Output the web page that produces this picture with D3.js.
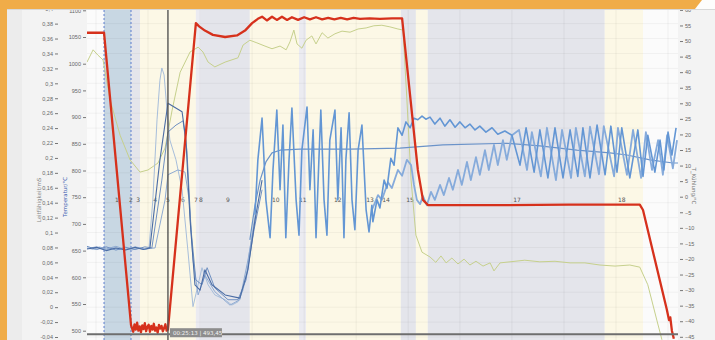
<!DOCTYPE html>
<html>
<head>
<meta charset="utf-8">
<script src="https://cdn.jsdelivr.net/npm/d3@7"></script>
<style>
  body { margin: 0; background: #f4f4f4; }
  svg { display: block; font-family: "DejaVu Sans", sans-serif; }
</style>
</head>
<body>
<svg id="chart"></svg>
<script>
const W = 715, H = 340;

// phase bands [start min, end min, kind]
const phaseBands = [
  [0, 5.3, "w"], [5.3, 13.7, "b"], [13.7, 16.5, "g"], [16.5, 33.9, "c"], [33.9, 35.5, "l"],
  [35.5, 50.7, "g"], [50.7, 66.0, "c"], [66.0, 68.2, "l"], [68.2, 97.7, "c"], [97.7, 102.4, "g"],
  [102.4, 106.1, "c"], [106.1, 161.2, "g"], [161.2, 173.1, "c"], [173.1, 184, "w"]
];
const dashedMarks = [5.3, 13.7];
const gridTimes = [2.8, 19.0, 35.2, 51.4, 67.6, 83.8, 100.0, 116.1, 132.3, 148.5, 164.7, 180.9];
const phaseNames = ["1", "2", "3", "4", "5", "6", "7", "8", "9", "10", "11", "12", "13", "14", "15", "17", "18"];
const phaseAt = [9.3, 13.7, 15.9, 21.2, 25.2, 29.9, 33.9, 35.5, 43.9, 58.8, 67.2, 78.1, 88.1, 93.1, 100.6, 133.9, 166.5];

const condTicks = d3.range(-0.04, 0.401, 0.02);
const tempTicks = [500, 550, 600, 650, 700, 750, 800, 850, 900, 950, 1000, 1050, 1100];
const rightTicks = [-45, -40, -35, -30, -25, -20, -15, -10, -5, 0, 5, 10, 15, 20, 25, 30, 35, 40, 45, 50, 55, 60];

const cursorTime = 25.2, cursorValue = 493.45;

// furnace temperature (red)
const redTemp = [[0,1058],[5.3,1058],[13.7,511],[14.0,505],[14.4,498],[14.8,512],[15.2,502],[15.6,515],[16.0,500],
  [16.4,508],[16.8,497],[17.2,510],[17.6,503],[18.0,514],[18.4,499],[18.8,507],[19.2,511],[19.6,498],[20.0,509],
  [20.4,502],[20.8,513],[21.2,500],[21.6,506],[22.0,496],[22.4,511],[22.8,504],[23.2,509],[23.6,499],[24.0,505],
  [24.4,512],[24.8,500],[25.2,502],[33.9,1076],[34.9,1070],[36.7,1062],[39.2,1054],[43.0,1050],[46.7,1053],
  [49.2,1062],[51.4,1076],[53.2,1084],[54.5,1088],[56.0,1081],[57.6,1088],[59.1,1082],[60.7,1088],[62.3,1082],
  [63.8,1087],[65.7,1082],[67.6,1087],[69.4,1083],[71.3,1087],[73.2,1083],[75.1,1086],[77.0,1083],[79.0,1086],
  [81.0,1083],[83.0,1086],[85.0,1084],[88.0,1085],[91.2,1084],[95.0,1085],[98.1,1085],[103.0,801],[104.6,745],
  [106.2,735],[128.6,735],[150.0,736],[172.1,736],[173.1,726],[180.5,540],[181.2,520],[181.6,525],[182.1,500],[182.7,485]];

// atmosphere temperature (yellow-green)
const yellowTemp = [[0,1003],[1.9,1026],[3.4,1016],[5.0,1007],[7.2,932],[10.3,866],[13.4,820],[16.5,797],[19.0,801],
  [22.1,814],[24.3,842],[26.5,913],[29.0,984],[32.1,1022],[34.6,1031],[36.1,1022],[37.7,1003],[39.8,994],[43.0,1003],
  [47.0,1011],[48.6,1035],[50.7,1044],[52.9,1039],[55.4,1033],[57.6,1028],[60.1,1033],[62.0,1026],[63.2,1041],
  [64.4,1063],[65.4,1037],[66.9,1029],[68.2,1044],[70.0,1052],[71.3,1037],[73.2,1058],[75.0,1048],[77.2,1056],
  [79.4,1061],[81.9,1059],[84.4,1065],[86.9,1067],[89.3,1071],[91.8,1072],[94.3,1069],[96.8,1065],[98.4,1063],
  [99.6,932],[100.9,782],[102.4,679],[104.3,647],[106.8,638],[108.6,628],[110.2,640],[111.8,627],[113.6,636],
  [115.5,625],[117.4,634],[119.2,623],[121.1,630],[123.3,621],[125.5,627],[126.7,612],[128.6,627],[131.7,629],
  [136.3,632],[141.0,629],[145.7,630],[150.4,627],[155.0,627],[159.7,623],[164.4,621],[169.0,623],[172.1,619],
  [174.6,586],[177.4,520],[179.0,483]];

// thermocouples (blue)
const blueTc1 = [[0,655],[2,652],[4,657],[6,651],[8,656],[10,652],[12,657],[14,651],[16,655],[18,652],[19.3,654],
  [20.5,745],[21.8,895],[22.7,969],[23.3,992],[24.0,979],[24.9,913],[25.8,857],[27.7,820],[29.6,764],[31.4,651],
  [33.0,545],[34.2,576],[35.8,618],[37.7,586],[39.8,567],[43.0,558],[45.1,548],[47.0,554],[48.6,576],[49.8,614],
  [51.1,670],[52.3,717]];
const blueTc2 = [[0,653],[3,656],[6,650],[9,655],[12,651],[15,656],[17.5,652],[19.6,655],[22.7,820],[25.2,926],
  [29.6,910],[30.8,857],[32.1,707],[33.6,586],[35.2,576],[36.7,614],[38.9,586],[43.0,567],[47.6,561],[50.1,614],
  [52.3,707],[54.5,782]];
const blueTc3 = [[0,658],[3,652],[6,657],[9,651],[12,656],[15,652],[18,657],[20.2,655],[23.3,782],[25.2,872],
  [27.7,885],[29.9,893],[31.1,838],[32.4,689],[33.9,595],[35.8,586],[37.4,618],[39.8,580],[43.9,558],[47.0,558],
  [49.5,595],[52.0,689],[54.5,764]];
const blueTc4 = [[0,654],[3,657],[6,653],[9,658],[12,652],[15,657],[18,653],[21.2,655],[24.3,745],[25.2,792],
  [28.3,801],[30.5,797],[31.8,745],[33.0,632],[34.6,567],[36.7,604],[39.8,573],[44.5,548],[47.6,558],[50.1,632],
  [52.6,717]];

// sample surface (oscillating)
const blueSample = [[52.3,717],[53.2,820],[54.5,898],[55.7,745],[57.0,674],[57.9,801],[59.1,913],[60.1,764],
  [61.0,885],[61.9,674],[62.9,820],[63.8,917],[65.1,745],[66.0,679],[66.9,838],[68.5,919],[69.4,764],[70.4,876],
  [71.3,674],[72.2,820],[72.8,913],[73.8,745],[74.7,679],[75.6,857],[77.2,913],[78.1,745],[79.1,880],[80.0,674],
  [80.6,820],[81.6,908],[82.5,745],[83.4,689],[84.4,838],[85.6,885],[86.9,726],[87.8,685],[88.7,735],[89.0,704],
  [90.3,745],[91.2,730],[92.5,782],[93.4,767],[94.6,823],[95.6,810],[96.8,880],[98.1,866],[99.3,891],[100.6,880],
  [101.8,898],[103.0,895],[104.3,902],[105.5,896],[106.8,900],[108.3,887],[109.9,898],[111.4,883],[113.0,895],
  [114.6,881],[116.1,891],[117.7,880],[119.2,887],[120.8,876],[122.3,883],[124.2,872],[126.1,880],[127.9,868],
  [130.1,874],[132.3,866],[134.8,810],[136.7,880],[139.2,797],[141.0,876],[143.5,786],[145.7,880],[148.2,786],
  [150.4,876],[152.8,789],[154.4,880],[156.6,786],[158.8,885],[161.3,792],[163.1,883],[165.0,797],[166.5,880],
  [169.0,786],[171.5,876],[173.1,789],[174.6,866],[176.8,797],[178.4,857],[179.6,801],[180.9,872],[182.1,829],[183.4,880]];

// sample back side
const blueLower = [[88.7,726],[90.6,754],[91.8,745],[93.7,778],[94.9,767],[96.8,801],[98.1,790],[99.6,820],
  [100.9,810],[101.8,773],[102.7,745],[103.7,737],[104.6,752],[105.8,735],[107.1,760],[108.3,745],[109.9,773],
  [111.1,754],[112.7,786],[113.9,764],[115.5,801],[116.7,773],[118.3,816],[119.5,782],[121.1,825],[122.3,792],
  [123.9,838],[125.1,801],[126.7,848],[127.9,810],[129.5,857],[130.7,820],[132.3,866],[134.5,876],[137.0,801],
  [138.5,872],[141.3,789],[143.2,880],[146.0,782],[147.9,876],[150.7,786],[152.2,880],[155.0,789],[156.6,882],
  [159.4,793],[160.9,883],[164.1,789],[165.3,880],[168.1,792],[170.0,876],[172.5,786],[174.0,872],[175.9,801],
  [177.8,857],[179.3,792],[180.6,866],[182.4,804],[183.7,857]];

// sample core
const blueCore = [[50.7,670],[52.3,735],[53.9,782],[55.7,816],[57.6,833],[60.1,838],[66.3,840],[81.9,840],
  [97.4,842],[110.8,848],[130.7,851],[141.0,846],[152.5,838],[162.8,833],[168.1,829],[175.3,820],[182.4,814],[184,814]];

const plotL = 87, plotR = 678, plotT = 10, plotB = 340;

const x = d3.scaleLinear().domain([0, 184]).range([plotL, plotR]);
const yTemp = d3.scaleLinear().domain([500, 1100]).range([330.7, 10.3]);
const yCond = d3.scaleLinear().domain([-0.04, 0.4]).range([337, 8.7]);
const yRight = d3.scaleLinear().domain([-45, 60]).range([336.8, 9.9]);

const svg = d3.select("#chart").attr("width", W).attr("height", H);

// frame
svg.append("rect").attr("width", W).attr("height", H).attr("fill", "#f3f3f3");
svg.append("rect").attr("x", 7).attr("y", 0).attr("width", 15).attr("height", H).attr("fill", "#ececec");
svg.append("rect").attr("x", plotL).attr("y", plotT).attr("width", plotR - plotL).attr("height", plotB - plotT).attr("fill", "#fbfbfb");

svg.append("defs").append("clipPath").attr("id", "plotclip")
  .append("rect").attr("x", plotL).attr("y", plotT).attr("width", plotR - plotL).attr("height", plotB - plotT);

const plot = svg.append("g").attr("clip-path", "url(#plotclip)");

const bandColor = { w: "#fbfbfb", b: "#c8d7e3", g: "#e4e5eb", c: "#fcf8e6", l: "#ebebf1" };
plot.selectAll(".band").data(phaseBands).enter().append("rect")
  .attr("x", d => x(d[0]))
  .attr("y", plotT)
  .attr("width", d => x(d[1]) - x(d[0]))
  .attr("height", plotB - plotT)
  .attr("fill", d => bandColor[d[2]]);

// grid
plot.selectAll(".hgrid").data(condTicks).enter().append("line")
  .attr("x1", plotL).attr("x2", plotR)
  .attr("y1", d => yCond(d)).attr("y2", d => yCond(d))
  .attr("stroke", "#000").attr("stroke-opacity", 0.045);
plot.selectAll(".vgrid").data(gridTimes).enter().append("line")
  .attr("x1", d => x(d)).attr("x2", d => x(d))
  .attr("y1", plotT).attr("y2", plotB)
  .attr("stroke", "#000").attr("stroke-opacity", 0.05);

plot.selectAll(".dash").data(dashedMarks).enter().append("line")
  .attr("x1", d => x(d)).attr("x2", d => x(d))
  .attr("y1", plotT).attr("y2", plotB)
  .attr("stroke", "#3d64c8").attr("stroke-width", 0.8).attr("stroke-dasharray", "2,2");

// phase numbers
plot.selectAll(".phase").data(phaseNames).enter().append("text")
  .attr("x", (d, i) => x(phaseAt[i]))
  .attr("y", 202)
  .attr("text-anchor", "middle")
  .style("font-size", "6px")
  .attr("fill", "#555")
  .text(d => d);

const line = d3.line().x(d => x(d[0])).y(d => yTemp(d[1]));

const series = [
  { data: yellowTemp, color: "#c6d08c", w: 1 },
  { data: blueTc1, color: "#a7bedb", w: 1 },
  { data: blueTc4, color: "#8eaad2", w: 1 },
  { data: blueTc3, color: "#6f90c2", w: 1 },
  { data: blueTc2, color: "#4a6ca5", w: 1.1 },
  { data: blueCore, color: "#6b93c9", w: 1.2 },
  { data: blueLower, color: "#86abdb", w: 1.8 },
  { data: blueSample, color: "#6396d4", w: 1.6 },
  { data: redTemp, color: "#d6311c", w: 2.3 }
];
series.forEach(s => {
  plot.append("path")
    .attr("d", line(s.data))
    .attr("fill", "none")
    .attr("stroke", s.color)
    .attr("stroke-width", s.w)
    .attr("stroke-linejoin", "round");
});

// cursor
plot.append("line")
  .attr("x1", x(cursorTime)).attr("x2", x(cursorTime))
  .attr("y1", plotT).attr("y2", plotB)
  .attr("stroke", "#555").attr("stroke-width", 1.4);
plot.append("line")
  .attr("x1", plotL).attr("x2", plotR)
  .attr("y1", yTemp(cursorValue)).attr("y2", yTemp(cursorValue))
  .attr("stroke", "#6e6e6e").attr("stroke-width", 2);
plot.append("rect")
  .attr("x", x(cursorTime) + 2).attr("y", yTemp(cursorValue) - 6)
  .attr("width", 52).attr("height", 9)
  .attr("fill", "#8d8d8d");
plot.append("text")
  .attr("x", x(cursorTime) + 5).attr("y", yTemp(cursorValue) + 1)
  .style("font-size", "5.5px")
  .attr("fill", "#f4f4f4")
  .text("00:25:13 | " + String(cursorValue).replace(".", ","));

// axes
const comma = d => String(+d.toFixed(2)).replace(".", ",");

const condAxis = svg.append("g")
  .attr("transform", "translate(58,0)")
  .call(d3.axisLeft(yCond).tickValues(condTicks).tickFormat(comma).tickSize(3).tickPadding(2));

const tempAxis = svg.append("g")
  .attr("transform", "translate(86,0)")
  .call(d3.axisLeft(yTemp).tickValues(tempTicks).tickFormat(d3.format("d")).tickSize(3).tickPadding(2));

const rightAxis = svg.append("g")
  .attr("transform", "translate(680,0)")
  .call(d3.axisRight(yRight).tickValues(rightTicks).tickSize(3).tickPadding(2));

[condAxis, tempAxis, rightAxis].forEach(a => {
  a.select(".domain").remove();
  a.selectAll("text").style("font-size", "5.5px").attr("fill", "#666");
  a.selectAll("line").attr("stroke", "#777");
});

svg.append("text")
  .attr("transform", "translate(41,200) rotate(-90)")
  .attr("text-anchor", "middle")
  .style("font-size", "5.5px")
  .attr("fill", "#888")
  .text("Leitfähigkeit/mS");
svg.append("text")
  .attr("transform", "translate(67,197) rotate(-90)")
  .attr("text-anchor", "middle")
  .style("font-size", "5.5px")
  .attr("fill", "#3a5bb0")
  .text("Temperatur/°C");
svg.append("text")
  .attr("transform", "translate(692,186) rotate(90)")
  .attr("text-anchor", "middle")
  .style("font-size", "5.5px")
  .attr("fill", "#777")
  .text("T_Kühlung/°C");

// orange border
svg.append("rect").attr("x", 0).attr("y", 0).attr("width", 7).attr("height", H).attr("fill", "#f0ac48");
svg.append("rect").attr("x", 0).attr("y", 0).attr("width", W).attr("height", 9).attr("fill", "#f0ac48");
svg.append("polygon").attr("points", "695,9 702,0 715,0 715,9").attr("fill", "#fdfdfd");
svg.append("line").attr("x1", 7).attr("x2", W).attr("y1", 9.5).attr("y2", 9.5).attr("stroke", "#d8d8d8");
</script>
</body>
</html>
